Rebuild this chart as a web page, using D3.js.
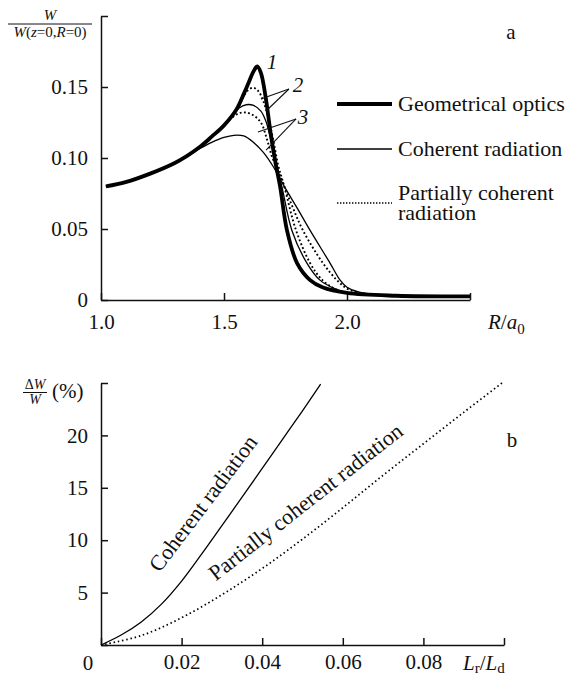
<!DOCTYPE html>
<html>
<head>
<meta charset="utf-8">
<script src="https://cdn.jsdelivr.net/npm/d3@7"></script>
<style>
body { margin: 0; background: #fff; }
svg text { font-family: "Liberation Serif", "DejaVu Serif", serif; fill: #111; }
</style>
</head>
<body>
<div id="chart"></div>
<script>
// ---- panel a : W / W(z=0,R=0) versus R/a0 ----
var rGeo  = [1.02, 1.1, 1.2, 1.3, 1.35, 1.4, 1.45, 1.5, 1.55, 1.58, 1.6, 1.62, 1.635, 1.65, 1.67, 1.69, 1.71, 1.728, 1.756, 1.797, 1.85, 1.9, 2.0, 2.2, 2.5];
var wGeo  = [0.080, 0.083, 0.089, 0.0965, 0.1015, 0.1075, 0.115, 0.123, 0.134, 0.145, 0.153, 0.161, 0.1645, 0.160, 0.142, 0.117, 0.096, 0.080, 0.049, 0.026, 0.014, 0.009, 0.005, 0.003, 0.0025];

var rCoh2 = [1.02, 1.1, 1.2, 1.3, 1.35, 1.4, 1.45, 1.5, 1.53, 1.56, 1.59, 1.62, 1.65, 1.67, 1.69, 1.71, 1.735, 1.776, 1.837, 1.89, 1.95, 2.0, 2.2, 2.5];
var wCoh2 = [0.080, 0.083, 0.089, 0.0965, 0.1015, 0.1075, 0.115, 0.123, 0.130, 0.135, 0.1375, 0.137, 0.133, 0.126, 0.113, 0.097, 0.080, 0.049, 0.026, 0.014, 0.008, 0.005, 0.003, 0.0025];

var rCoh3 = [1.02, 1.1, 1.2, 1.3, 1.35, 1.4, 1.45, 1.5, 1.54, 1.58, 1.62, 1.66, 1.70, 1.745, 1.8, 1.85, 1.931, 1.972, 2.0, 2.05, 2.2, 2.5];
var wCoh3 = [0.080, 0.083, 0.089, 0.0965, 0.1015, 0.1065, 0.111, 0.1145, 0.1160, 0.1155, 0.111, 0.104, 0.094, 0.080, 0.064, 0.049, 0.026, 0.014, 0.009, 0.0055, 0.003, 0.0025];

var rPart2 = [1.02, 1.1, 1.2, 1.3, 1.35, 1.4, 1.45, 1.5, 1.55, 1.58, 1.60, 1.62, 1.64, 1.66, 1.68, 1.70, 1.72, 1.745, 1.793, 1.85, 1.9, 1.95, 2.0, 2.2, 2.5];
var wPart2 = [0.080, 0.083, 0.089, 0.0965, 0.1015, 0.1075, 0.115, 0.123, 0.133, 0.1435, 0.148, 0.1495, 0.147, 0.140, 0.128, 0.113, 0.095, 0.080, 0.049, 0.026, 0.014, 0.008, 0.005, 0.003, 0.0025];

var rPart3 = [1.02, 1.1, 1.2, 1.3, 1.35, 1.4, 1.45, 1.5, 1.53, 1.56, 1.59, 1.62, 1.65, 1.675, 1.695, 1.715, 1.745, 1.78, 1.821, 1.902, 1.959, 2.0, 2.05, 2.2, 2.5];
var wPart3 = [0.080, 0.083, 0.089, 0.0965, 0.1015, 0.1075, 0.115, 0.123, 0.128, 0.1315, 0.132, 0.130, 0.125, 0.113, 0.101, 0.093, 0.080, 0.065, 0.049, 0.026, 0.014, 0.008, 0.005, 0.003, 0.0025];

var aTicksX  = [1.0, 1.5, 2.0, 2.5];
var aLabelsX = ["1.0", "1.5", "2.0", ""];
var aTicksY  = [0, 0.05, 0.10, 0.15, 0.20];
var aLabelsY = ["0", "0.05", "0.10", "0.15", ""];

// curve numbers and their leader lines, in data units
var numLabels = [{t: "1", r: 1.695, w: 0.1676}, {t: "2", r: 1.801, w: 0.152}, {t: "3", r: 1.821, w: 0.129}];
var leaders = [
  [[1.764, 0.1486], [1.650, 0.1415]], [[1.764, 0.1486], [1.671, 0.1331]],
  [[1.793, 0.1275], [1.638, 0.1183]], [[1.793, 0.1275], [1.671, 0.1056]]
];

// ---- panel b : dW/W (%) versus Lr/Ld ----
var lrCoh  = [0, 0.005, 0.01, 0.015, 0.02, 0.025, 0.03, 0.035, 0.04, 0.045, 0.05, 0.0545];
var dwCoh  = [0, 0.95, 2.2, 3.9, 6.1, 8.7, 11.4, 14.1, 16.85, 19.6, 22.35, 24.9];
var lrPart = [0, 0.01, 0.02, 0.03, 0.04, 0.05, 0.06, 0.07, 0.08, 0.09, 0.0995];
var dwPart = [0, 0.9, 2.6, 4.8, 7.3, 10.1, 13.1, 16.2, 19.2, 22.2, 25];

var bTicksX  = [0, 0.02, 0.04, 0.06, 0.08, 0.1];
var bLabelsX = ["", "0.02", "0.04", "0.06", "0.08", ""];
var bTicksY  = [0, 5, 10, 15, 20, 25];
var bLabelsY = ["", "5", "10", "15", "20", ""];

var W = 567, H = 674;
var FONT = '"Liberation Serif", "DejaVu Serif", serif';
var svg = d3.select("#chart").append("svg").attr("width", W).attr("height", H);

var xa = d3.scaleLinear().domain([1, 2.5]).range([101, 470]);
var ya = d3.scaleLinear().domain([0, 0.2]).range([300, 16]);
var xb = d3.scaleLinear().domain([0, 0.1]).range([101, 504]);
var yb = d3.scaleLinear().domain([0, 25]).range([645, 383]);

function axes(x, y, tx, lx, ty, ly, padX) {
  var gx = svg.append("g").attr("transform", "translate(0," + y.range()[0] + ")")
    .call(d3.axisBottom(x).tickValues(tx).tickFormat(function(d, i) { return lx[i]; })
      .tickSizeInner(-7).tickSizeOuter(0).tickPadding(padX));
  var gy = svg.append("g").attr("transform", "translate(" + x.range()[0] + ",0)")
    .call(d3.axisLeft(y).tickValues(ty).tickFormat(function(d, i) { return ly[i]; })
      .tickSizeInner(-7).tickSizeOuter(0).tickPadding(13));
  [gx, gy].forEach(function(g) {
    g.attr("font-family", null).attr("font-size", null);
    g.selectAll("path, line").attr("stroke", "#111").attr("stroke-width", 1.5);
    g.selectAll("text").style("font-family", FONT).style("font-size", "21px").attr("fill", "#111");
  });
}

axes(xa, ya, aTicksX, aLabelsX, aTicksY, aLabelsY, 14);
axes(xb, yb, bTicksX, bLabelsX, bTicksY, bLabelsY, 9.5);

function pairs(xs, ys) { return xs.map(function(v, i) { return [v, ys[i]]; }); }

var lineA = d3.line().x(function(d) { return xa(d[0]); }).y(function(d) { return ya(d[1]); }).curve(d3.curveCatmullRom.alpha(0.5));
var lineB = d3.line().x(function(d) { return xb(d[0]); }).y(function(d) { return yb(d[1]); }).curve(d3.curveCatmullRom.alpha(0.5));

var thin = {w: 1.3, dash: null}, dotted = {w: 1.9, dash: "1.8,2.4"}, thick = {w: 3.8, dash: null};

function curve(gen, data, st) {
  svg.append("path").datum(data).attr("d", gen)
    .attr("fill", "none").attr("stroke", "#000")
    .attr("stroke-width", st.w).attr("stroke-dasharray", st.dash)
    .attr("stroke-linejoin", "round");
}

curve(lineA, pairs(rCoh3, wCoh3), thin);
curve(lineA, pairs(rCoh2, wCoh2), thin);
curve(lineA, pairs(rPart3, wPart3), dotted);
curve(lineA, pairs(rPart2, wPart2), dotted);
curve(lineA, pairs(rGeo, wGeo), thick);

leaders.forEach(function(l) {
  svg.append("line").attr("x1", xa(l[0][0])).attr("y1", ya(l[0][1]))
    .attr("x2", xa(l[1][0])).attr("y2", ya(l[1][1]))
    .attr("stroke", "#111").attr("stroke-width", 1.1);
});
numLabels.forEach(function(n) {
  svg.append("text").attr("x", xa(n.r)).attr("y", ya(n.w)).attr("dy", "0.35em")
    .attr("text-anchor", "middle").style("font-size", "21px").style("font-style", "italic").text(n.t);
});

// legend of panel a
var legend = [
  {st: thick, y: 104, lines: ["Geometrical optics"]},
  {st: thin, y: 149, lines: ["Coherent radiation"]},
  {st: {w: 1.6, dash: "1.4,1.6"}, y: 203, lines: ["Partially coherent", "radiation"]}
];
legend.forEach(function(l) {
  svg.append("line").attr("x1", 337).attr("x2", 392).attr("y1", l.y).attr("y2", l.y)
    .attr("stroke", "#000").attr("stroke-width", l.st.w).attr("stroke-dasharray", l.st.dash);
  var t = svg.append("text").attr("x", 398).style("font-size", "22px");
  if (l.lines.length == 1) {
    t.attr("y", l.y + 7).text(l.lines[0]);
  } else {
    t.attr("y", l.y - 3).text(l.lines[0]);
    svg.append("text").attr("x", 398).attr("y", l.y + 17).style("font-size", "22px").text(l.lines[1]);
  }
});

// panel letters
svg.append("text").attr("x", 511).attr("y", 39).attr("text-anchor", "middle").style("font-size", "21px").text("a");
svg.append("text").attr("x", 512).attr("y", 447).attr("text-anchor", "middle").style("font-size", "21px").text("b");

// axis titles panel a
var ytA = svg.append("g").style("font-size", "15px");
ytA.append("text").attr("x", 50).attr("y", 20).attr("text-anchor", "middle").style("font-style", "italic").text("W");
ytA.append("line").attr("x1", 8).attr("x2", 92).attr("y1", 24).attr("y2", 24).attr("stroke", "#111").attr("stroke-width", 1);
var den = ytA.append("text").attr("x", 50).attr("y", 37).attr("text-anchor", "middle");
den.append("tspan").style("font-style", "italic").text("W");
den.append("tspan").text("(");
den.append("tspan").style("font-style", "italic").text("z");
den.append("tspan").text("=0,");
den.append("tspan").style("font-style", "italic").text("R");
den.append("tspan").text("=0)");

var xtA = svg.append("text").attr("x", 488).attr("y", 329).style("font-size", "21px");
xtA.append("tspan").style("font-style", "italic").text("R");
xtA.append("tspan").text("/");
xtA.append("tspan").style("font-style", "italic").text("a");
xtA.append("tspan").attr("dy", 5).style("font-size", "15px").text("0");

// panel b curves
curve(lineB, pairs(lrCoh, dwCoh), thin);
curve(lineB, pairs(lrPart, dwPart), {w: 1.7, dash: "1.5,2.8"});

// rotated curve labels
var curveText = [
  {t: "Coherent radiation", x: 0.0268, y: 13.1, a: -53},
  {t: "Partially coherent radiation", x: 0.0519, y: 13.1, a: -38}
];
curveText.forEach(function(c) {
  svg.append("text").attr("text-anchor", "middle").style("font-size", "22px")
    .attr("transform", "translate(" + xb(c.x) + "," + yb(c.y) + ") rotate(" + c.a + ")")
    .text(c.t);
});

// axis titles panel b
var ytB = svg.append("g");
var num = ytB.append("text").attr("x", 35).attr("y", 389).attr("text-anchor", "middle").style("font-size", "14px");
num.append("tspan").text("Δ");
num.append("tspan").style("font-style", "italic").text("W");
ytB.append("line").attr("x1", 23).attr("x2", 47).attr("y1", 392.5).attr("y2", 392.5).attr("stroke", "#111").attr("stroke-width", 1);
ytB.append("text").attr("x", 35).attr("y", 404).attr("text-anchor", "middle").style("font-size", "14px").style("font-style", "italic").text("W");
ytB.append("text").attr("x", 52).attr("y", 398).style("font-size", "21px").text("(%)");

svg.append("text").attr("x", xb(0) - 13).attr("y", 669.5).attr("text-anchor", "middle").style("font-size", "21px").text("0");
var xtB = svg.append("text").attr("x", 463).attr("y", 669.5).style("font-size", "21px");
xtB.append("tspan").style("font-style", "italic").text("L");
xtB.append("tspan").attr("dy", 3).style("font-size", "15px").text("r");
xtB.append("tspan").attr("dy", -3).text("/");
xtB.append("tspan").style("font-style", "italic").text("L");
xtB.append("tspan").attr("dy", 3).style("font-size", "15px").text("d");
</script>
</body>
</html>
